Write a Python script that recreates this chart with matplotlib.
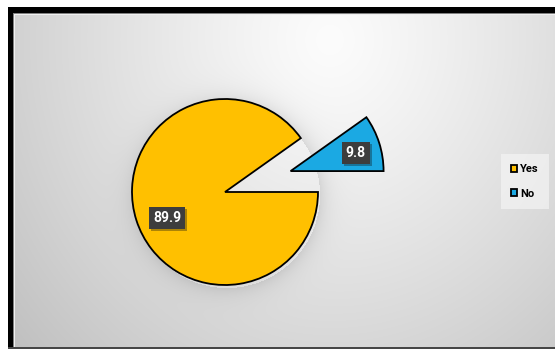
import numpy as np
import matplotlib
matplotlib.use('Agg')
import matplotlib.pyplot as plt
from matplotlib import patheffects as pe

# ---- data ----
categories = ['Yes', 'No']
values = [89.9, 9.8]
colors = ['#FFC000', '#1BA9E3']
explode = [0.0, 0.74]

# ---- layout (pixels) ----
W, H = 555, 351
CX, CY, R = 225, 192, 93
FONT = ['Roboto', 'DejaVu Sans']

fig = plt.figure(figsize=(W / 100, H / 100), dpi=100)
fig.patch.set_facecolor('white')

# background image: frame + gradient + soft pie shadow
yy, xx = np.mgrid[0:H, 0:W] + 0.5
rr = np.sqrt(((xx - 330) / 300) ** 2 + ((yy - 40) / 330) ** 2)
v = 252 - 40 * rr ** 1.2
d = np.sqrt((xx - CX - 2) ** 2 + (yy - CY - 3) ** 2)
shadow = np.where(d > R, 0.10 * np.exp(-(d - R) / 10.0), 0.0)
v = v * (1 - shadow)
img = np.full((H, W, 3), 255.0)
img[15:347, 15:, :] = v[15:347, 15:, None]
img[7:13, 8:, :] = 0
img[7:349, 8:13, :] = 0
img[13:14, 13:, :] = 128
img[13:348, 13:14, :] = 128
img[14:15, 14:, :] = 240
img[14:347, 14:15, :] = 240
img[347:349, 8:, :] = 70

bg = fig.add_axes([0, 0, 1, 1])
bg.imshow(img.astype(np.uint8), extent=(0, W, H, 0), interpolation='nearest')
bg.set_xlim(0, W)
bg.set_ylim(H, 0)
bg.set_axis_off()

ax = fig.add_axes([0, 0, 1, 1])
ax.patch.set_alpha(0)
wedges, _ = ax.pie(values, colors=colors, explode=explode, startangle=0,
                   counterclock=False,
                   wedgeprops=dict(edgecolor='black', linewidth=1.3))
ax.set_aspect('auto')
ax.set_xlim(-CX / R, (W - CX) / R)
ax.set_ylim(-(H - CY) / R, CY / R)
ax.set_axis_off()

# data labels
angle_off = [6.5, -2.0]
dist = [0.68, 0.73]
for w, val, ao, dd in zip(wedges, values, angle_off, dist):
    th = np.deg2rad((w.theta1 + w.theta2) / 2 + ao)
    x = w.center[0] + dd * w.r * np.cos(th)
    y = w.center[1] + dd * w.r * np.sin(th)
    t = ax.text(x, y, f'{val:.1f}', ha='center', va='center', color='white',
                fontsize=10, fontweight='bold', family=FONT,
                bbox=dict(boxstyle='square,pad=0.28', fc='#3d3d3d', ec='none'))
    t.get_bbox_patch().set_path_effects(
        [pe.SimplePatchShadow(offset=(1.5, -1.5), alpha=0.35), pe.Normal()])

leg = fig.legend(wedges, categories, loc='center',
                 bbox_to_anchor=(525 / W, 1 - 181.5 / H),
                 prop=dict(family=FONT, weight='bold', size=8),
                 handlelength=0.55, handleheight=0.55, handletextpad=0.25,
                 labelspacing=1.3, borderpad=0.9, fancybox=False,
                 frameon=True, facecolor='#f4f4f4', edgecolor='none', framealpha=0.7)

fig.savefig('out.png', dpi=100)
